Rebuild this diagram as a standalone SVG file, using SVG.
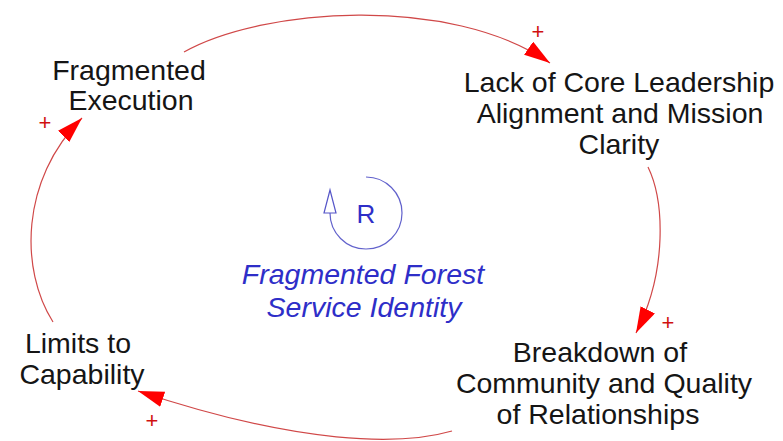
<svg xmlns="http://www.w3.org/2000/svg" width="783" height="441" viewBox="0 0 783 441">
<style>
.node{font-family:"Liberation Sans",Arial,sans-serif;font-size:28.5px;fill:#151515;text-anchor:middle}
.link{fill:none;stroke:#d04848;stroke-width:1.2}
.pol{font-family:"Liberation Sans",Arial,sans-serif;font-size:22px;fill:#d01010;text-anchor:middle}
.loop{font-family:"Liberation Sans",Arial,sans-serif;fill:#2e2ec8;text-anchor:middle}
</style>
<defs>
<marker id="arr" markerUnits="userSpaceOnUse" markerWidth="30" markerHeight="20" refX="26" refY="8" orient="auto">
<path d="M0,0 L26,8 L0,16 z" fill="#ff0000"/>
</marker>
</defs>
<rect width="783" height="441" fill="#ffffff"/>
<g id="connectors">
<path class="link" d="M184,52 C262,8 450,-6 550,63" marker-end="url(#arr)"/>
<path class="link" d="M648,167 C664,200 668,270 636,333" marker-end="url(#arr)"/>
<path class="link" d="M452,431 C400,446 300,445 138,391" marker-end="url(#arr)"/>
<path class="link" d="M53,322 C20,270 20,180 82,118" marker-end="url(#arr)"/>
<text class="pol" x="538" y="39">+</text>
<text class="pol" x="668" y="330">+</text>
<text class="pol" x="152" y="428">+</text>
<text class="pol" x="45" y="130">+</text>
</g>
<g id="node-fragmented-execution">
<text class="node" x="129" y="80">Fragmented</text>
<text class="node" x="131" y="110">Execution</text>
</g>
<g id="node-lack-of-core-leadership">
<text class="node" x="619" y="92">Lack of Core Leadership</text>
<text class="node" x="620" y="123">Alignment and Mission</text>
<text class="node" x="619" y="154">Clarity</text>
</g>
<g id="node-breakdown-of-community">
<text class="node" x="600" y="362">Breakdown of</text>
<text class="node" x="604" y="393">Community and Quality</text>
<text class="node" x="598" y="424">of Relationships</text>
</g>
<g id="node-limits-to-capability">
<text class="node" x="78" y="353">Limits to</text>
<text class="node" x="82" y="384">Capability</text>
</g>
<g id="loop-r">
<path d="M366,177 A36,36 0 1 1 330,213" fill="none" stroke="#6262cc" stroke-width="1.2"/>
<path d="M330,190 L336,213 L324,213 z" fill="#ffffff" stroke="#5555c8" stroke-width="1.2"/>
<text class="loop" x="366" y="223" font-size="26">R</text>
<text class="loop" x="363" y="284" font-size="28.5" font-style="italic">Fragmented Forest</text>
<text class="loop" x="364" y="317" font-size="28.5" font-style="italic">Service Identity</text>
</g>
</svg>
